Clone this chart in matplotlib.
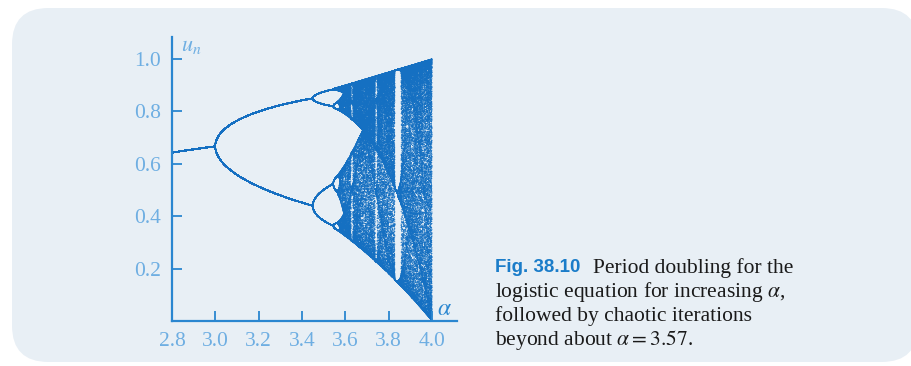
import numpy as np
import matplotlib.pyplot as plt
from matplotlib.patches import FancyBboxPatch

# logistic map u_{n+1} = alpha * u_n * (1 - u_n)
alpha_start = 2.8
alpha_stop = 4.0
alpha_chaos = 3.565
n_alpha = 1500
u0 = 0.5
n_transient = 600
n_keep = 120

x_ticks = [2.8, 3.0, 3.2, 3.4, 3.6, 3.8, 4.0]
y_ticks = [0.2, 0.4, 0.6, 0.8, 1.0]
caption_head = "Fig. 38.10"
caption_lines = [
    "Period doubling for the",
    r"logistic equation for increasing $\alpha$,",
    "followed by chaotic iterations",
    r"beyond about $\alpha = 3.57$.",
]

plt.rcParams['mathtext.fontset'] = 'stix'

BLUE = "#1570c2"
AXIS = "#2a86d0"
LABEL = "#6eaee2"
PANEL = "#e8eff5"

alphas = np.linspace(alpha_start, alpha_stop, n_alpha)
u = np.full(n_alpha, u0)
for _ in range(n_transient):
    u = alphas * u * (1 - u)
xs, ys = [], []
for _ in range(n_keep):
    u = alphas * u * (1 - u)
    xs.append(alphas.copy())
    ys.append(u.copy())
xs = np.concatenate(xs)
ys = np.concatenate(ys)
sizes = np.where(xs < alpha_chaos, 0.9, 0.6)

fig = plt.figure(figsize=(9.12, 3.66), dpi=100)
fig.patch.set_facecolor("white")
panel = FancyBboxPatch((12 / 912, 4 / 366), 906 / 912, 354 / 366,
                       boxstyle="round,pad=0,rounding_size=0.04",
                       transform=fig.transFigure, facecolor=PANEL,
                       edgecolor="none", zorder=-10, mutation_aspect=912 / 366)
fig.patches.append(panel)

# axes: x 2.8 -> 172px, 4.115 -> 457px ; y 0 -> 321px, 1.084 -> 37px
ax = fig.add_axes([172 / 912, (366 - 321) / 366, (457 - 172) / 912, (321 - 37) / 366])
ax.set_zorder(5)
ax.set_facecolor("none")
ax.scatter(xs, ys, s=sizes, color=BLUE, linewidths=0, rasterized=True)
ax.set_xlim(2.8, 4.115)
ax.set_ylim(0, 1.084)
for side in ["top", "right"]:
    ax.spines[side].set_visible(False)
for side in ["left", "bottom"]:
    ax.spines[side].set_color(AXIS)
    ax.spines[side].set_linewidth(1.6)
ax.set_xticks(x_ticks)
ax.set_yticks(y_ticks)
ax.set_xticklabels([f"{v:.1f}" for v in x_ticks], family="Liberation Serif", fontsize=15.5)
ax.set_yticklabels([f"{v:.1f}" for v in y_ticks], family="Liberation Serif", fontsize=15.5)
ax.tick_params(direction="in", length=7, width=1.3, colors=AXIS, labelcolor=LABEL, pad=8)
ax.text(0.03, 1.005, r"$u_n$", transform=ax.transAxes, color=LABEL, fontsize=16,
        va="top", ha="left")
ax.text(0.955, 0.045, r"$\alpha$", transform=ax.transAxes, color=AXIS, fontsize=17,
        va="center", ha="center")

fig.text(495 / 912, 1 - 268 / 366, caption_head, color="#1a7cc9", fontsize=13.5,
         family="Liberation Sans", weight="bold", va="center", ha="left")
fig.text(593 / 912, 1 - 268 / 366, caption_lines[0], color="#1a1a1a", fontsize=15.5,
         family="Liberation Serif", va="center", ha="left")
for i, line in enumerate(caption_lines[1:]):
    fig.text(495 / 912, 1 - (292 + 24 * i) / 366, line, color="#1a1a1a", fontsize=15.5,
             family="Liberation Serif", va="center", ha="left")

fig.savefig("out.png", dpi=100)
